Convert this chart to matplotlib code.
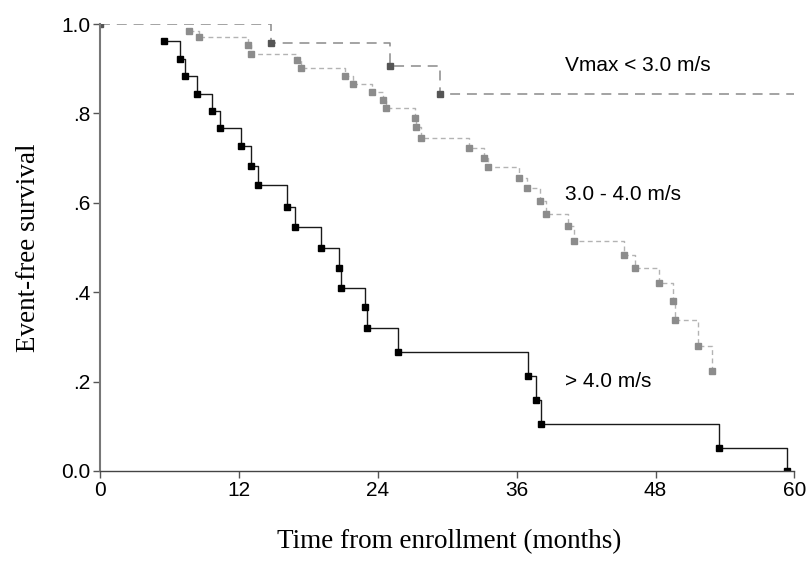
import matplotlib
matplotlib.use("Agg")
import matplotlib.pyplot as plt

# Kaplan-Meier style step curves
# Vmax < 3.0 m/s (long dashes)
t_low = [0, 14.8, 25.05, 29.37, 60]
s_low = [1.0, 0.958, 0.905, 0.844, 0.844]

# 3.0 - 4.0 m/s (short grey dashes)
t_mid = [7.67, 8.53, 12.77, 13.03, 17.0, 17.35, 21.16, 21.85, 23.49, 24.47,
         24.7, 27.23, 27.32, 27.73, 31.85, 33.2, 33.49, 36.2, 36.92, 38.04,
         38.56, 40.46, 40.95, 45.28, 46.23, 48.33, 49.49, 49.69, 51.7, 52.88]
s_mid = [0.985, 0.970, 0.952, 0.934, 0.919, 0.902, 0.884, 0.866, 0.848, 0.830,
         0.811, 0.789, 0.769, 0.746, 0.723, 0.701, 0.679, 0.656, 0.632, 0.605,
         0.576, 0.547, 0.515, 0.484, 0.455, 0.420, 0.380, 0.337, 0.280, 0.224]

# > 4.0 m/s (solid black)
t_high = [5.51, 6.89, 7.32, 8.36, 9.66, 10.35, 12.16, 13.03, 13.63, 16.14,
          16.83, 19.08, 20.63, 20.81, 22.9, 23.06, 25.74, 36.98, 37.67, 38.1,
          53.46, 59.34]
s_high = [0.963, 0.922, 0.884, 0.844, 0.806, 0.768, 0.728, 0.683, 0.639, 0.591,
          0.546, 0.499, 0.454, 0.410, 0.366, 0.319, 0.266, 0.213, 0.159, 0.106,
          0.051, 0.0]

xticks = [0, 12, 24, 36, 48, 60]
yticks = [0.0, 0.2, 0.4, 0.6, 0.8, 1.0]
ytick_labels = ["0.0", ".2", ".4", ".6", ".8", "1.0"]

fig = plt.figure(figsize=(8.08, 5.65), dpi=100)
ax = fig.add_axes([100.3 / 808, 1 - 471 / 565, 694 / 808, 447 / 565])

# Vmax < 3.0
ax.plot(t_low, s_low, drawstyle="steps-post", color="#8a8a8a", lw=1.1,
        dashes=(6.5, 4.5))
ax.plot(t_low[:-1], s_low[:-1], ls="none", marker="s", ms=4.2,
        color="#555555")

# 3.0 - 4.0
ax.plot(t_mid, s_mid, drawstyle="steps-post", color="#b3b3b3", lw=1.0,
        dashes=(3.5, 2.5))
ax.plot(t_mid, s_mid, ls="none", marker="s", ms=3.8, color="#8c8c8c")

# > 4.0
ax.plot(t_high, s_high, drawstyle="steps-post", color="#1a1a1a", lw=1.0)
ax.plot(t_high, s_high, ls="none", marker="s", ms=4.6, color="black")

ax.text(40.2, 0.908, "Vmax < 3.0 m/s", fontsize=15, family="Liberation Sans",
        va="center", ha="left")
ax.text(40.2, 0.619, "3.0 - 4.0 m/s", fontsize=15, family="Liberation Sans",
        va="center", ha="left")
ax.text(40.2, 0.201, "> 4.0 m/s", fontsize=15, family="Liberation Sans",
        va="center", ha="left")

ax.set_xlim(0, 60)
ax.set_ylim(0, 1)
ax.set_xticks(xticks)
ax.set_yticks(yticks)
ax.set_yticklabels(ytick_labels)
for lab in ax.get_xticklabels() + ax.get_yticklabels():
    lab.set_family("Liberation Sans")
    lab.set_fontsize(15)
ax.tick_params(direction="out", length=5, width=1, color="#555555", pad=2)

for side in ["top", "right"]:
    ax.spines[side].set_visible(False)
ax.spines["left"].set_color("#777777")
ax.spines["left"].set_linewidth(1.5)
ax.spines["bottom"].set_color("#444444")
ax.spines["bottom"].set_linewidth(1.0)

fig.text(29 / 808, 1 - 247.5 / 565, "Event-free survival", rotation=90,
         ha="center", va="center", fontsize=19.5, family="Liberation Serif")
fig.text(449.5 / 808, 1 - 541.7 / 565, "Time from enrollment (months)",
         ha="center", va="center", fontsize=19.5, family="Liberation Serif")

fig.savefig("out.png", dpi=100)
